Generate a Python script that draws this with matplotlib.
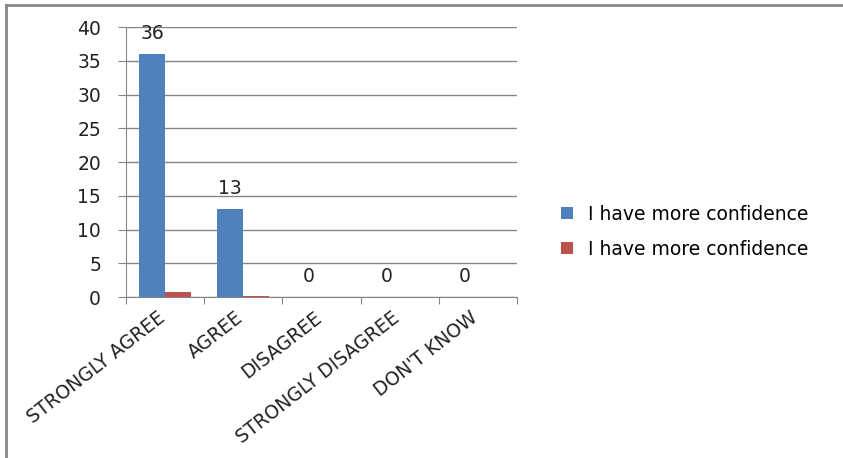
import matplotlib.pyplot as plt
from matplotlib.lines import Line2D
from matplotlib.transforms import ScaledTranslation
import numpy as np

plt.rcParams['font.family'] = ['DejaVu Sans']

categories = ["STRONGLY AGREE", "AGREE", "DISAGREE", "STRONGLY DISAGREE", "DON'T KNOW"]
series_names = ["I have more confidence", "I have more confidence"]
blue_vals = [36, 13, 0, 0, 0]
red_vals = [0.73, 0.22, 0, 0, 0]

blue = "#4F81BD"
red = "#C0504D"
grid_col = "#868686"
txt_col = "#222222"
fs = 13.5

fig = plt.figure(figsize=(8.43, 4.58), dpi=100)
ax = fig.add_axes([0.1495, 0.3515, 0.4638, 0.5895])

x = np.arange(len(categories)) + 0.5
w = 1 / 3
ax.bar(x - w / 2, blue_vals, w, color=blue, label=series_names[0], zorder=3)
ax.bar(x + w / 2, red_vals, w, color=red, label=series_names[1], zorder=3)

# Datenbeschriftung nur für die blaue Reihe
for xi, v in zip(x, blue_vals):
    ax.annotate(str(v), (xi - w / 2, v), xytext=(0, 8), textcoords="offset points",
                ha="center", va="bottom", fontsize=fs, color=txt_col)

ax.set_xlim(0, len(categories))
ax.set_ylim(0, 40)
ax.set_yticks(range(0, 41, 5))
ax.yaxis.grid(True, color=grid_col, linewidth=1, zorder=0)

ax.set_xticks(range(len(categories) + 1))
ax.set_xticklabels([])
ax.set_xticks(x, minor=True)
ax.set_xticklabels(categories, minor=True, rotation=38, ha="right",
                   rotation_mode="anchor", fontsize=fs, color=txt_col)
ax.tick_params(axis="x", which="minor", length=0, pad=8)
ax.tick_params(axis="x", which="major", length=5, color=grid_col, direction="out")
ax.tick_params(axis="y", length=6, color=grid_col, labelsize=fs, labelcolor=txt_col, pad=12)

# Kategorienbeschriftung etwas nach links schieben
shift = ScaledTranslation(-8 / 100, 0, fig.dpi_scale_trans)
for lbl in ax.get_xticklabels(minor=True):
    lbl.set_transform(lbl.get_transform() + shift)

for s in ["top", "right"]:
    ax.spines[s].set_visible(False)
for s in ["left", "bottom"]:
    ax.spines[s].set_color(grid_col)

ax.legend(loc="center left", bbox_to_anchor=(0.646, 0.494), bbox_transform=fig.transFigure,
          frameon=False, fontsize=fs, handlelength=0.6, handleheight=0.6,
          labelspacing=0.85, handletextpad=0.8)

# Rahmen oben und links
fig.add_artist(Line2D([0.0077, 1], [0.990, 0.990], color="#888888", linewidth=2))
fig.add_artist(Line2D([0.0077, 0.0077], [0, 0.990], color="#888888", linewidth=2))

fig.savefig("out.png", dpi=100)
